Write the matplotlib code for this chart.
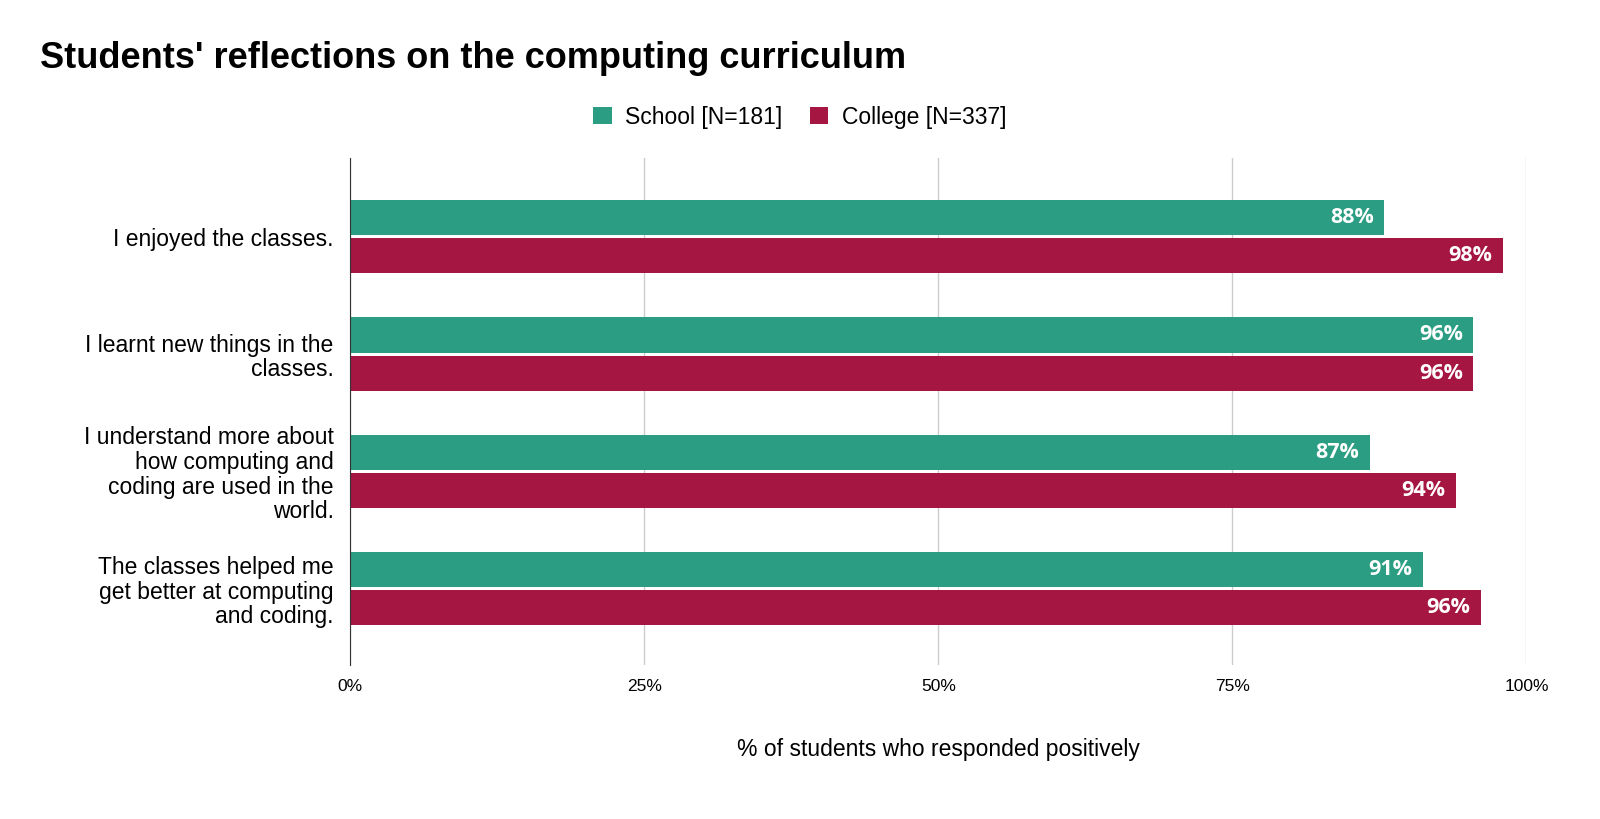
import matplotlib
matplotlib.use("Agg")
import matplotlib.pyplot as plt
import numpy as np

categories = ["I enjoyed the classes.", "I learnt new things in the\nclasses.",
              "I understand more about\nhow computing and\ncoding are used in the\nworld.",
              "The classes helped me\nget better at computing\nand coding."]
school = [87.9, 95.5, 86.7, 91.2]
college = [98.0, 95.5, 94.0, 96.1]
school_labels = ["88%", "96%", "87%", "91%"]
college_labels = ["98%", "96%", "94%", "96%"]
xticks = [0, 25, 50, 75, 100]

fig = plt.figure(figsize=(16, 8.19), dpi=100)
ax = fig.add_axes([0.219, 0.188, 0.735, 0.619])
y = np.arange(len(categories))
h = 0.30
off = 0.163
c1, c2 = "#2a9d82", "#a51642"
b1 = ax.barh(y - off, school, height=h, color=c1, label="School [N=181]")
b2 = ax.barh(y + off, college, height=h, color=c2, label="College [N=337]")
for bars, labs in ((b1, school_labels), (b2, college_labels)):
    for b, l in zip(bars, labs):
        ax.text(b.get_width() - 0.9, b.get_y() + b.get_height() / 2, l, ha="right", va="center",
                color="white", fontweight="bold", fontsize=15.5, family="Open Sans")
ax.set_ylim(3.65, -0.67)
ax.set_xlim(0, 100)
ax.set_yticks(y)
ax.set_yticklabels(categories, fontsize=16.5, family="Liberation Sans", linespacing=1.1)
ax.set_xticks(xticks)
ax.set_xticklabels([f"{t}%" for t in xticks], fontsize=12.5, family="Liberation Sans")
ax.tick_params(length=0, pad=10)
ax.tick_params(axis="y", pad=12)
ax.grid(axis="x", color="#cccccc", lw=1)
ax.set_axisbelow(True)
for s in ["top", "right", "bottom"]:
    ax.spines[s].set_visible(False)
ax.spines["left"].set_color("#333333")
ax.set_xlabel("% of students who responded positively", fontsize=16.5, family="Liberation Sans", labelpad=32)
fig.text(0.025, 0.928, "Students' reflections on the computing curriculum", fontsize=26,
         fontweight="bold", family="Liberation Sans", va="center")
fig.legend(handles=[b1, b2], loc="center", bbox_to_anchor=(0.5, 0.857), ncol=2, frameon=False,
           prop={"family": "Liberation Sans", "size": 16.5}, handlelength=0.8, handleheight=0.8,
           columnspacing=1.2, handletextpad=0.6)
fig.savefig("out.png", dpi=100)
